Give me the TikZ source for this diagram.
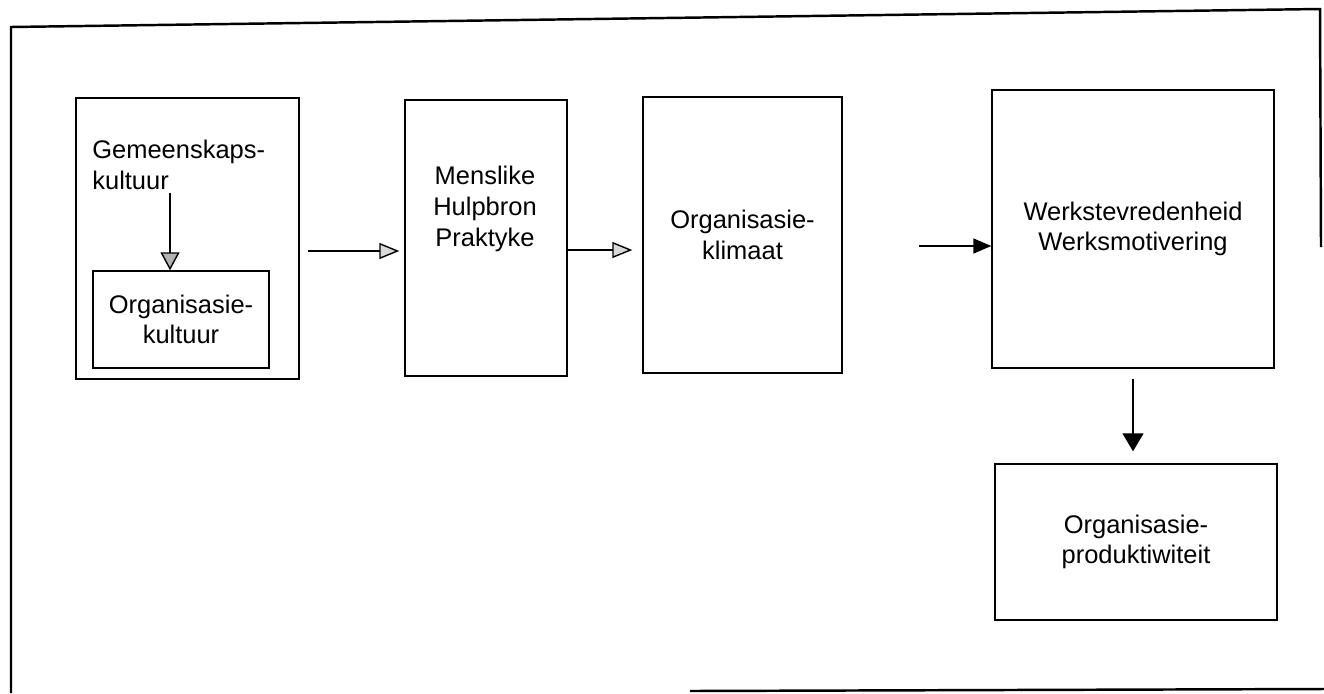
\documentclass[tikz,border=0pt]{standalone}
\usepackage{fontspec}
\setmainfont{Liberation Sans}
\usepackage{tikz}
\usetikzlibrary{arrows.meta, positioning, shapes}

\begin{document}
\begin{tikzpicture}[x=0.02cm, y=-0.02cm,
  box/.style={draw, line width=0.8pt, inner sep=0pt, align=center, font=\fontsize{14.5}{17.5}\selectfont},
  txt/.style={inner sep=0pt, align=center, font=\fontsize{14.5}{17.5}\selectfont},
  openflow/.style={-{Triangle[length=0.4cm, width=0.32cm, fill=gray!30]}, line width=0.8pt},
  innerflow/.style={-{Triangle[length=0.36cm, width=0.38cm, fill=gray!60]}, line width=0.8pt},
  darkflow/.style={-{Triangle[length=0.36cm, width=0.3cm]}, line width=0.8pt},
  bigflow/.style={-{Triangle[length=0.36cm, width=0.42cm]}, line width=0.8pt}
]
\useasboundingbox (0,0) rectangle (1324,693);

% Frame
\draw[line width=1.4pt] (11,693) -- (11,27) -- (1320,9) -- (1321,247);
\draw[line width=1.4pt] (690,691) -- (1324,689);

% Culture box
\node[box, minimum width=4.46cm, minimum height=5.62cm] (culture) at (187.5,238.5) {};
\node[txt, align=left, anchor=north west] (society) at (92,140) {Gemeenskaps-\\kultuur};
\node[box, minimum width=3.52cm, minimum height=1.94cm] (orgcult) at (181,319.5) {Organisasie-\\kultuur};
\coordinate (drop) at (170,193);
\draw[innerflow] (drop) -- (drop |- orgcult.north);

% Main chain
\node[box, minimum width=3.24cm, minimum height=5.52cm] (hrm) at (486,238) {};
\node[txt] (hrmtext) at (485,209) {Menslike\\Hulpbron\\Praktyke};
\node[box, minimum width=3.98cm, minimum height=5.52cm] (climate) at (742.5,235) {Organisasie-\\klimaat};
\node[box, minimum width=5.64cm, minimum height=5.56cm] (motivation) at (1133,229) {Werkstevredenheid\\Werksmotivering};
\node[box, minimum width=5.64cm, minimum height=3.12cm] (productivity) at (1136,542) {Organisasie-\\produktiwiteit};

% Arrows
\draw[openflow, shorten <=0.16cm, shorten >=0.1cm] (culture.east |- 0,251) -- (hrm.west |- 0,251);
\draw[openflow, shorten >=0.2cm] (hrm.east |- 0,250) -- (climate.west |- 0,250);
\draw[darkflow, shorten <=1.52cm] (climate.east |- 0,246) -- (motivation.west |- 0,246);
\draw[bigflow, shorten <=0.2cm, shorten >=0.24cm] (motivation.south) -- (motivation.south |- productivity.north);
\end{tikzpicture}
\end{document}
